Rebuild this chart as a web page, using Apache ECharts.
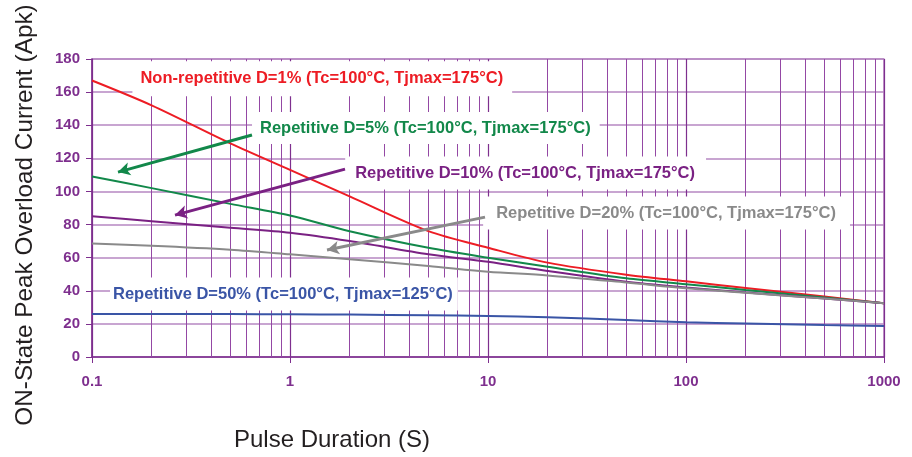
<!DOCTYPE html>
<html><head><meta charset="utf-8">
<script src="https://cdn.jsdelivr.net/npm/echarts@6/dist/echarts.min.js"></script>
<style>html,body{margin:0;padding:0;background:#fff}#c{width:912px;height:457px}</style>
</head><body><div id="c"></div>
<script>
// ---- data ----
const xTitle = 'Pulse Duration (S)';
const yTitle = 'ON-State Peak Overload Current (Apk)';
const xMajor = [0.1, 1, 10, 100, 1000];
const xMinor = [0.2,0.3,0.4,0.5,0.6,0.7,0.8,0.9,2,3,4,5,6,7,8,9,20,30,40,50,60,70,80,90,200,300,400,500,600,700,800,900];
const yTicks = [0,20,40,60,80,100,120,140,160,180];

const nonRep1 = [[0.1,167],[0.2,152],[0.5,129],[1,113],[2,97],[5,76],[10,66],[20,57],[50,49.7],[100,45.7],[200,41.7],[500,36.5],[1000,32.5]];
const rep5 = [[0.1,109],[0.2,102],[0.5,92.5],[1,85.5],[2,76],[5,66],[10,60],[20,54.5],[50,47.5],[100,44],[200,40.5],[500,36],[1000,32.5]];
const rep10 = [[0.1,85],[0.2,82],[0.5,78],[1,75],[2,70],[5,62],[10,57.5],[20,52],[50,45.5],[100,42],[200,39],[500,35.3],[1000,32.5]];
const rep20 = [[0.1,68.5],[0.2,67.2],[0.5,64.8],[1,62],[2,59],[5,55],[10,51.5],[20,49.3],[50,45],[100,41.5],[200,38.8],[500,35.3],[1000,32.5]];
const rep50 = [[0.1,26],[0.2,26],[0.5,25.9],[1,25.8],[2,25.6],[5,25.2],[10,24.8],[20,24],[50,22.3],[100,21],[200,20.2],[500,19.3],[1000,18.8]];

// label anchor = left edge of the white box, vertical middle (data coords)
const labels = [
  {text:'Non-repetitive D=1% (Tc=100°C, Tjmax=175°C)', at:[0.160,168], color:'#ED1C24', pad:[10,9,8,8]},
  {text:'Repetitive D=5% (Tc=100°C, Tjmax=175°C)', at:[0.643,138.3], color:'#12884A', pad:[8,9,7,8]},
  {text:'Repetitive D=10% (Tc=100°C, Tjmax=175°C)', at:[1.90,111.1], color:'#7A2183', pad:[8,11,8,10]},
  {text:'Repetitive D=20% (Tc=100°C, Tjmax=175°C)', at:[9.45,87.0], color:'#8A8A8A', pad:[9,14,7,13]},
  {text:'Repetitive D=50% (Tc=100°C, Tjmax=125°C)', at:[0.1233,38.0], color:'#3A55A6', pad:[8,5,8,3]}
];
const arrows = [
  {from:[0.6427,134.1], to:[0.1353,111.7], color:'#12884A'},
  {from:[1.896,113.5], to:[0.2625,85.7], color:'#7A2183'},
  {from:[9.66,84.5], to:[1.538,64.6], color:'#8A8A8A'}
];

const AX = '#7E2F8E';
const chart = echarts.init(document.getElementById('c'));
const lineSeries = (name, data, color) => ({
  name, type:'line', data, smooth:0.3, symbol:'none', z:3,
  lineStyle:{color, width:2}, silent:true
});
chart.setOption({
  animation:false,
  backgroundColor:'#fff',
  grid:{left:92, right:28, top:59, bottom:100, show:true, borderColor:'#9A55AA', borderWidth:1.2},
  xAxis:{type:'log', logBase:10, min:0.1, max:1000, z:0,
    axisLine:{show:true, lineStyle:{color:AX, width:1.5}},
    axisTick:{show:true, length:6, lineStyle:{color:AX}},
    axisLabel:{color:AX, fontFamily:'Liberation Sans, Arial', fontWeight:'bold', fontSize:15, margin:17,
      formatter:v=>String(+v.toPrecision(3))},
    splitLine:{show:true, lineStyle:{color:'#7E2F8E', width:1.2}},
    minorTick:{show:false}, minorSplitLine:{show:false}
  },
  yAxis:{type:'value', min:0, max:180, interval:20, z:0,
    axisLine:{show:true, lineStyle:{color:AX, width:1.5}},
    axisTick:{show:true, inside:false, length:6, lineStyle:{color:AX}},
    axisLabel:{color:AX, fontFamily:'Liberation Sans, Arial', fontWeight:'bold', fontSize:15, margin:12},
    splitLine:{show:true, lineStyle:{color:'#B687C2', width:1.6}}
  },
  series:[
    {type:'line', data:[], z:1, silent:true,
      markLine:{z:1, silent:true, symbol:'none', label:{show:false}, animation:false,
        lineStyle:{color:'#9448A4', width:1, type:'solid'},
        data: xMinor.map(v=>({xAxis:v}))}},
    lineSeries('D=1%', nonRep1, '#ED1C24'),
    lineSeries('D=5%', rep5, '#12884A'),
    lineSeries('D=10%', rep10, '#7A2183'),
    lineSeries('D=20%', rep20, '#8A8A8A'),
    lineSeries('D=50%', rep50, '#3A55A6'),
    {type:'line', data:[], z:6, silent:true,
      markLine:{z:6, silent:true, symbol:['none','arrow'], symbolSize:[10,12], label:{show:false}, animation:false,
        data: arrows.map(a=>[
          {coord:a.from, lineStyle:{color:a.color, width:3, type:'solid'}, itemStyle:{color:a.color}},
          {coord:a.to}
        ])}}
  ]
});

const g = [];
labels.forEach(l=>{
  const p = chart.convertToPixel({gridIndex:0}, l.at);
  g.push({type:'text', x:p[0], y:p[1], z:2, zlevel:0, silent:true,
    style:{text:l.text, fill:l.color, font:'bold 16.5px "Liberation Sans", Arial, sans-serif',
      align:'left', verticalAlign:'middle', backgroundColor:'#fff', padding:l.pad}});
});
g.push({type:'text', x:25, y:215, rotation:Math.PI/2, z:2, silent:true,
  style:{text:yTitle, fill:'#231F20', font:'24.3px "Liberation Sans", Arial, sans-serif', align:'center', verticalAlign:'middle'}});
g.push({type:'text', x:332, y:440, z:2, silent:true,
  style:{text:xTitle, fill:'#231F20', font:'24px "Liberation Sans", Arial, sans-serif', align:'center', verticalAlign:'middle'}});
chart.setOption({graphic:{elements:g}});
</script></body></html>
